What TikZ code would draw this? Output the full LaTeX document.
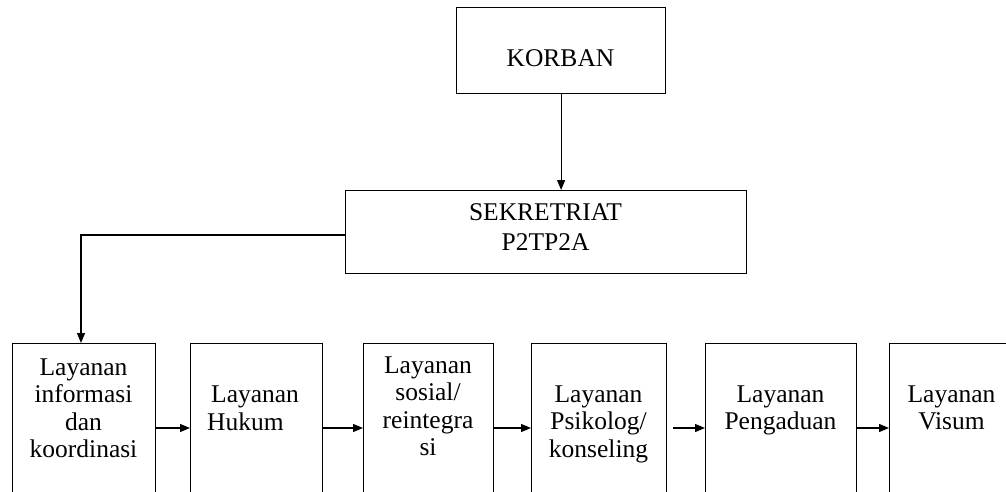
\documentclass[tikz,border=0pt]{standalone}
\usepackage{fontspec}
\setmainfont{Liberation Serif}
\usetikzlibrary{arrows.meta}
\tikzset{
  box/.style={draw, line width=1.2pt, inner sep=0pt, anchor=north west},
  lowtxt/.style={font=\fontsize{25.5}{27.5}\selectfont, align=center, inner sep=0pt, anchor=north},
  toptxt/.style={font=\fontsize{25.5}{30}\selectfont, align=center, inner sep=0pt, anchor=north},
  arr/.style={-{Triangle[length=10pt,width=8pt]}, line width=1.2pt},
}
\begin{document}
\begin{tikzpicture}[x=1pt,y=-1pt]
\clip (0,0) rectangle (1006,492);
% top boxes
\node[box, minimum width=209pt, minimum height=86pt] (korban) at (456,7) {};
\node[toptxt] (korbantxt) at (560.5,45) {\strut KORBAN};
\node[box, minimum width=401pt, minimum height=83pt] (sek) at (345,190) {};
\node[toptxt] (sektxt) at (545.5,199) {\strut SEKRETRIAT\\P2TP2A};
% bottom boxes (run off the lower edge)
\node[box, minimum width=143pt, minimum height=200pt] (b1) at (12,343) {};
\node[box, minimum width=132pt, minimum height=200pt] (b2) at (190,343) {};
\node[box, minimum width=130pt, minimum height=200pt] (b3) at (363,343) {};
\node[box, minimum width=135pt, minimum height=200pt] (b4) at (531,343) {};
\node[box, minimum width=151pt, minimum height=200pt] (b5) at (705,343) {};
\node[box, minimum width=125pt, minimum height=200pt] (b6) at (889,343) {};
\node[lowtxt] (t1) at (83.5,356) {\strut Layanan\\informasi\\dan\\koordinasi};
\node[lowtxt, align=left, anchor=north west] (t2) at (211,383.5) {\strut Layanan\\\hspace*{-4pt}Hukum};
\node[lowtxt] (t3) at (428,354) {\strut Layanan\\sosial/\\reintegra\\si};
\node[lowtxt] (t4) at (598.5,383) {\strut Layanan\\Psikolog/\\konseling};
\node[lowtxt] (t5) at (780.5,383) {\strut Layanan\\Pengaduan};
\node[lowtxt] (t6) at (951.5,383) {\strut Layanan\\Visum};
% connectors
\coordinate (row) at (0,428);
\coordinate (bend) at (81,235);
\draw[arr] (korban.south) -- (korban.south |- sek.north);
\draw[arr] (sek.west |- bend) -- (bend) -- (bend |- b1.north);
\draw[arr] (b1.east |- row) -- (b2.west |- row);
\draw[arr] (b2.east |- row) -- (b3.west |- row);
\draw[arr] (b3.east |- row) -- (b4.west |- row);
\draw[arr, shorten <=6pt] (b4.east |- row) -- (b5.west |- row);
\draw[arr] (b5.east |- row) -- (b6.west |- row);
\end{tikzpicture}
\end{document}
